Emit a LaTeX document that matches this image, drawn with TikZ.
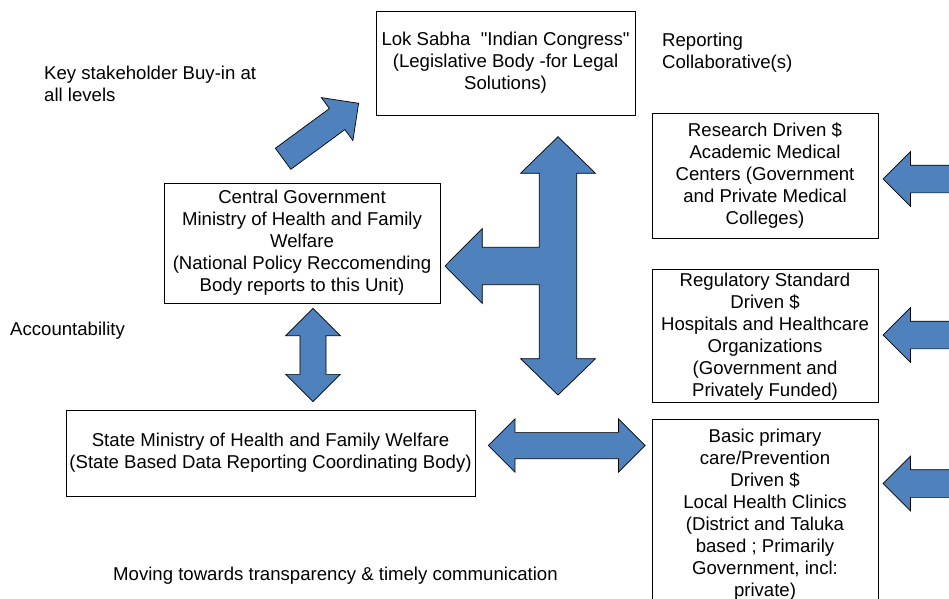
\documentclass[tikz,border=0pt]{standalone}
\usepackage{fontspec}
\setmainfont{Liberation Sans}[Ligatures=TeXOff]
\usepackage{tikz}
\usetikzlibrary{positioning,shapes.arrows}
\definecolor{arrowblue}{RGB}{79,129,189}

\begin{document}
\begin{tikzpicture}[x=1pt,y=-1pt,% pixel grid of the slide, y grows downwards
			every node/.style={
				font=\fontsize{18.6}{22}\selectfont,
				inner sep=0pt
			},
			govbox/.style={rectangle,draw=black,line width=0.7pt,fill=white,align=center},
			freetext/.style={align=left,anchor=west},
			blockarrow/.style={draw=black,line width=0.7pt,fill=arrowblue}
		]
		\useasboundingbox (0,0) rectangle (949,598);
		\clip (0,0) rectangle (949,598);
		% boxes
		\node[govbox,minimum width=259pt,minimum height=104pt](lok) at (505.5,63) {Lok Sabha~ "Indian Congress"\\(Legislative Body -for Legal\\Solutions)};
		\node[govbox,minimum width=276pt,minimum height=120pt](central) at (302,243) {Central Government\\Ministry of Health and Family\\Welfare\\(National Policy Reccomending\\Body reports to this Unit)};
		\node[govbox,minimum width=409pt,minimum height=86pt](state) at (270.5,453) {State Ministry of Health and Family Welfare\\(State Based Data Reporting Coordinating Body)};
		\node[govbox,minimum width=226pt,minimum height=125pt](research) at (765,175.5) {Research Driven \$\\Academic Medical\\Centers (Government\\and Private Medical\\Colleges)};
		\node[govbox,minimum width=226pt,minimum height=133pt](regulatory)[below=31pt of research] {Regulatory Standard\\Driven \$\\Hospitals and Healthcare\\Organizations\\(Government and\\Privately Funded)};
		\node[govbox,minimum width=226pt,minimum height=190pt](basic)[below=16pt of regulatory] {Basic primary\\care/Prevention\\Driven \$\\Local Health Clinics\\(District and Taluka\\based ; Primarily\\Government, incl:\\private)};
		% free texts
		\node[freetext](stake) at (44,84) {Key stakeholder Buy-in at\\all levels};
		\node[freetext](reporting) at (662,53) {Reporting\\Collaborative(s)};
		\node[freetext](account) at (10,331) {Accountability};
		\node[freetext](moving) at (113,576) {Moving towards transparency \& timely communication};
		% block arrows (inner ysep = half the shaft)
		\node[blockarrow,single arrow,rotate=36.3,anchor=tip,inner ysep=12.7pt,minimum height=93.7pt,single arrow head extend=13.6pt](buyin) at (359,103) {};
		\node[blockarrow,double arrow,rotate=90,inner ysep=12.7pt,minimum height=93.4pt,double arrow head extend=14.3pt](updown) at (313,355) {};
		\node[blockarrow,double arrow,inner ysep=12.8pt,minimum height=156.7pt,double arrow head extend=13.4pt](leftright) at (566.7,445.5) {};
		\node[blockarrow,single arrow,rotate=180,anchor=tip,inner ysep=13.5pt,minimum height=110pt,single arrow head extend=13.5pt](feedA) at (882.7,179) {};
		\node[blockarrow,single arrow,rotate=180,anchor=tip,inner ysep=13.5pt,minimum height=110pt,single arrow head extend=13.5pt](feedB) at (882.7,335) {};
		\node[blockarrow,single arrow,rotate=180,anchor=tip,inner ysep=13.5pt,minimum height=110pt,single arrow head extend=13.5pt](feedC) at (882.7,483.5) {};
		% three-way arrow between Lok Sabha, central government and state
		\draw[blockarrow] (558,136.7) -- (595.5,173.3) -- (576.7,173.3) -- (576.7,358.7) -- (595.5,358.7)
			-- (558,395) -- (520.5,358.7) -- (539.3,358.7) -- (539.3,284.7) -- (482.3,284.7)
			-- (482.3,303.5) -- (445,266) -- (482.3,228.5) -- (482.3,247.3) -- (539.3,247.3)
			-- (539.3,173.3) -- (520.5,173.3) -- cycle;
	\end{tikzpicture}
\end{document}
